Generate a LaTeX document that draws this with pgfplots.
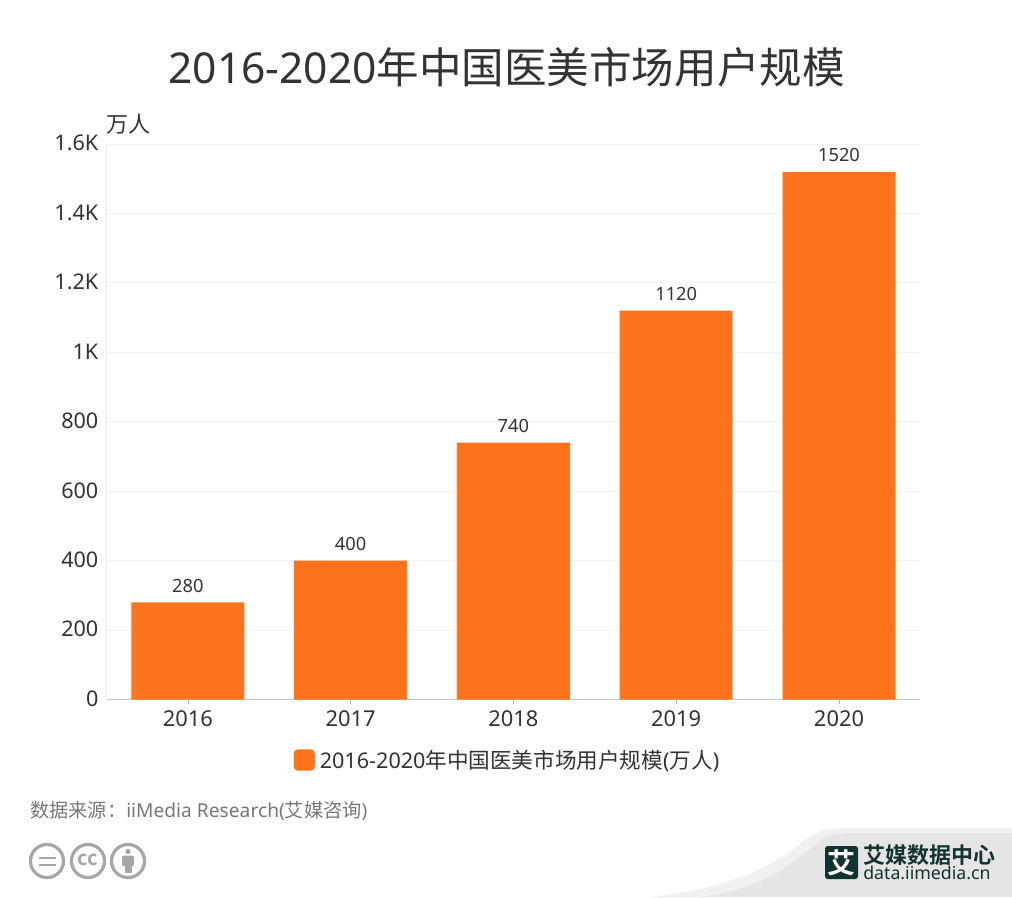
\documentclass[border=0pt]{standalone}
\usepackage{fontspec}
\usepackage{pgfplots}
\pgfplotsset{compat=1.18}
\setmainfont{Noto Sans}
\newfontfamily\cjk{Noto Sans CJK SC}
\newfontfamily\cjkb{Noto Sans CJK SC Bold}
\definecolor{barc}{HTML}{FF731D}
\definecolor{txt}{HTML}{333333}
\definecolor{src}{HTML}{777777}
\definecolor{icon}{HTML}{A6A6A6}
\definecolor{logo}{HTML}{12332F}
\def\pp(#1,#2){({#1*0.75pt},{-#2*0.75pt})}
\begin{document}
\begin{tikzpicture}
\path[use as bounding box,fill=white] \pp(0,0) rectangle \pp(1012,897);
% corner swoosh
\fill[color=black!6] \pp(650,897) .. controls \pp(720,890) and \pp(770,870) .. \pp(805,840) .. controls \pp(818,830) and \pp(830,828) .. \pp(850,828) -- \pp(1012,828) -- \pp(1012,897) -- cycle;
\fill[color=black!10] \pp(700,897) .. controls \pp(760,890) and \pp(790,865) .. \pp(815,845) .. controls \pp(825,836) and \pp(835,833) .. \pp(850,833) -- \pp(1012,833) -- \pp(1012,897) -- cycle;
\begin{axis}[
  at={({106.4*0.75pt},{-699.5*0.75pt})}, anchor=south west,
  scale only axis, width=610.5pt, height=416.6pt,
  xmin=-0.5, xmax=4.5, ymin=0, ymax=1600,
  ybar, bar width=84.75pt, bar shift=0pt,
  xtick={0,1,2,3,4}, xticklabels={2016,2017,2018,2019,2020},
  ytick={0,200,400,600,800,1000,1200,1400,1600},
  yticklabels={0,200,400,600,800,1K,1.2K,1.4K,1.6K},
  scaled y ticks=false,
  ymajorgrids, grid style={color=black!5, line width=0.75pt},
  axis line style={line width=1pt},
  axis x line*=bottom, axis y line*=left,
  x axis line style={color=black!22, -},
  y axis line style={color=black!8, -},
  major tick length=3pt,
  xtick style={color=black!30},
  ytick style={draw=none},
  tick align=outside,
  xticklabel style={font=\fontsize{16.4}{19}\selectfont, text=txt, yshift=-1.5pt},
  yticklabel style={font=\fontsize{16.2}{19}\selectfont, text=txt, xshift=0.5pt, yshift=0.7pt},
  /pgf/number format/assume math mode=true,
  /pgf/number format/1000 sep={},
  nodes near coords,
  every node near coord/.append style={font=\fontsize{13.7}{16}\selectfont, text=txt, yshift=3.8pt},
  legend style={at={({(507.5-106)/814},{(699.5-760)/555.5})}, anchor=center, draw=none, fill=none,
    font=\fontsize{16.2}{19}\selectfont, text=txt},
  legend image code/.code={\fill[barc,rounded corners=3pt] (0pt,-8pt) rectangle (15.75pt,8pt); \path (0pt,0pt) (17.5pt,0pt);},
  legend cell align=left,
]
\addplot[fill=barc, draw=none] coordinates {(0,280) (1,400) (2,740) (3,1120) (4,1520)};
\addlegendentry{2016-2020{\cjk 年中国医美市场用户规模}({\cjk 万人})}
\end{axis}
% title and unit
\node[font=\fontsize{31.9}{38}\selectfont, text=txt] at \pp(506.5,67.5) {2016-2020{\cjk 年中国医美市场用户规模}};
\node[font=\cjk\fontsize{16.5}{19}\selectfont, text=txt, anchor=west, inner sep=0pt] at \pp(106,124.5) {万人};
% source
\node[font=\fontsize{14.4}{18}\selectfont, text=src, anchor=west, inner sep=0pt] at \pp(30,810.5) {{\cjk 数据来源：}iiMedia Research({\cjk 艾媒咨询})};
% licence icons
\draw[icon, line width=2.4pt] \pp(47,861) circle (12.4pt);
\draw[icon, line width=2.4pt] \pp(88,861) circle (12.4pt);
\draw[icon, line width=2.4pt] \pp(128,861) circle (12.4pt);
\fill[icon] \pp(38.5,856.5) rectangle \pp(55.5,859.3);
\fill[icon] \pp(38.5,863.5) rectangle \pp(55.5,866.3);
\node[font=\cjkb\fontsize{15}{16}\selectfont, text=icon, inner sep=0pt] at \pp(88,860) {cc};
\fill[icon] \pp(128,851.5) circle (2pt);
\fill[icon, rounded corners=1pt] \pp(122,855.5) rectangle \pp(134,866);
\fill[icon] \pp(124.5,865) rectangle \pp(131.5,872.5);
% logo
\fill[logo, rounded corners=2pt] \pp(825,846) rectangle \pp(858,879);
\node[font=\cjkb\fontsize{21}{22}\selectfont, text=white, inner sep=0pt] at \pp(841.5,862.5) {艾};
\node[font=\cjkb\fontsize{16.5}{18}\selectfont, text=logo, anchor=west, inner sep=0pt] at \pp(863,855.5) {艾媒数据中心};
\node[font=\fontsize{13.3}{14}\selectfont, text=logo, anchor=west, inner sep=0pt] at \pp(863,873) {data.iimedia.cn};
\end{tikzpicture}
\end{document}
